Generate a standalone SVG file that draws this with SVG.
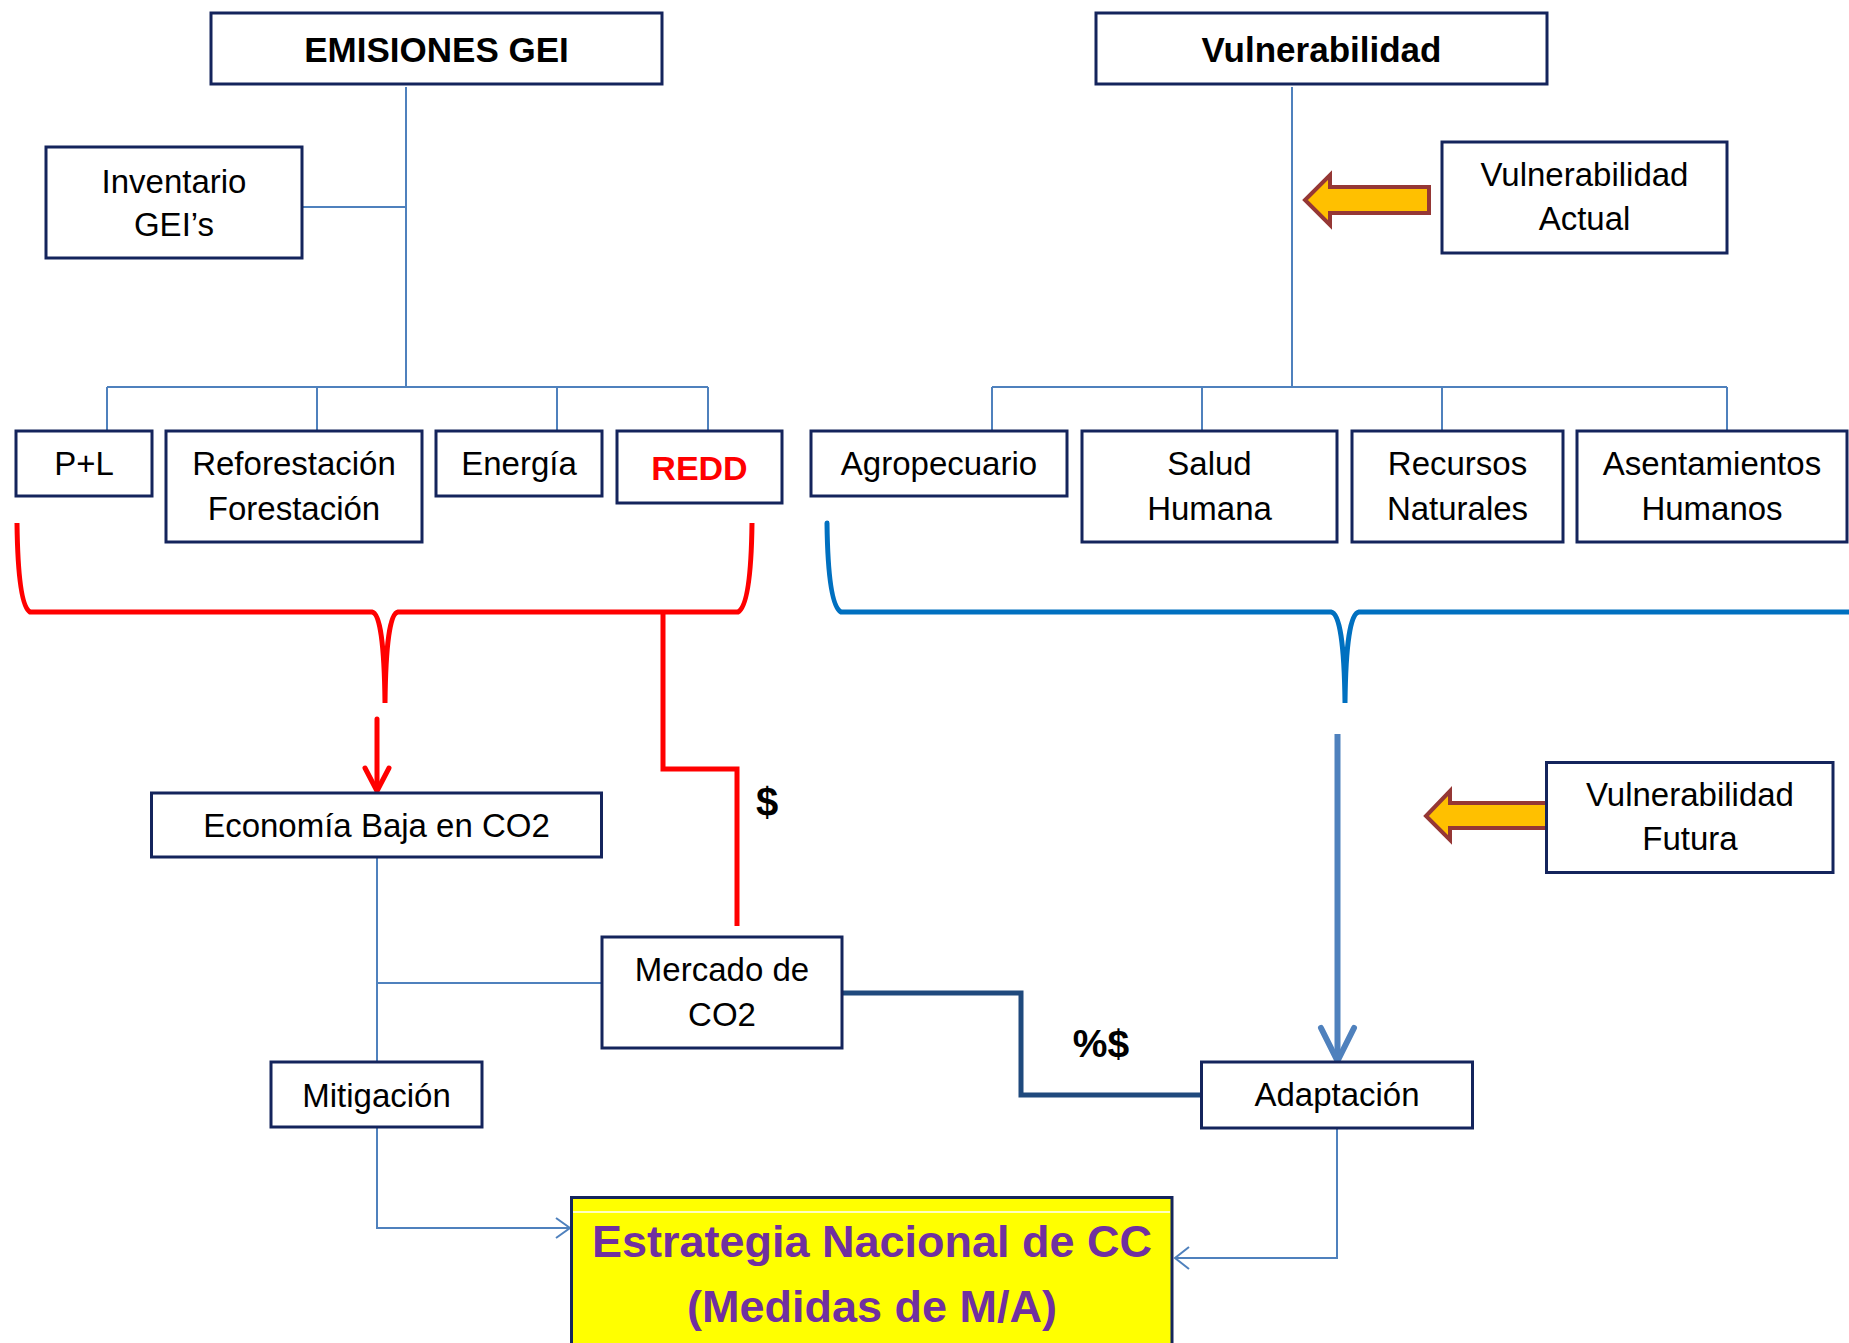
<svg xmlns="http://www.w3.org/2000/svg" width="1849" height="1343" viewBox="0 0 1849 1343">
<style>
.box{fill:#ffffff;stroke:#14245C;stroke-width:3}
.t{font-family:"Liberation Sans",Arial,sans-serif;font-size:33px;fill:#000;text-anchor:middle}
.b{font-family:"Liberation Sans",Arial,sans-serif;font-weight:bold;text-anchor:middle;fill:#000}
.c{fill:none;stroke:#4F81BD;stroke-width:2}
.red{fill:none;stroke:#FF0000;stroke-width:5;stroke-linejoin:miter}
.blu{fill:none;stroke:#0070C0;stroke-width:5}
.ya{fill:#FFC000;stroke:#953735;stroke-width:4}
</style>
<rect width="1849" height="1343" fill="#ffffff"/>
<g id="connectors">
<path class="c" d="M406,87V387M302,207H406M107,387H708M107,387V431M317,387V431M557,387V431M708,387V431"/>
<path class="c" d="M1292,87V387M992,387H1727M992,387V431M1202,387V431M1442,387V431M1727,387V431"/>
<path class="c" d="M377,857V1062M377,983H602"/>
<path class="c" d="M377,1127V1228H569M556,1218L570,1228L556,1238"/>
<path class="c" d="M1337,1128V1258H1175M1189,1247L1175,1258L1189,1269"/>
<path class="red" d="M17,523Q18,605 30,612L372,612Q384,614 385,703Q386,614 398,612L738,612Q751,605 752,523"/>
<path class="red" d="M663,612V769H737V926"/>
<path class="red" d="M377,719V788" stroke-linecap="round"/>
<path class="red" d="M365,768L377,791L389,768" stroke-width="4" stroke-linecap="round" stroke-linejoin="round"/>
<path class="blu" d="M827,523Q828,605 841,612L1331,612Q1344,614 1345,703Q1346,614 1359,612L1849,612" stroke-linecap="round"/>
<path d="M1337.5,734V1058" fill="none" stroke="#4F81BD" stroke-width="6"/>
<path d="M1321,1028L1337.5,1061L1354,1028" fill="none" stroke="#4F81BD" stroke-width="6" stroke-linecap="round" stroke-linejoin="round"/>
<path d="M842,993H1021V1095H1201" fill="none" stroke="#1F497D" stroke-width="5"/>
<polygon class="ya" points="1429,187 1330,187 1330,175 1305,200 1330,225 1330,213 1429,213"/>
<polygon class="ya" points="1549,803 1450,803 1450,791 1426,816 1450,840 1450,828 1549,828"/>
<text class="b" x="767" y="816" font-size="40">$</text>
<text class="b" x="1101" y="1057" font-size="39">%$</text>
</g>
<g id="emisiones"><rect class="box" x="211" y="13" width="451" height="71"/><text class="b" x="436.5" y="62" font-size="35">EMISIONES GEI</text></g>
<g id="inventario"><rect class="box" x="46" y="147" width="256" height="111"/><text class="t" x="174" y="193">Inventario</text><text class="t" x="174" y="236">GEI’s</text></g>
<g id="pl"><rect class="box" x="16" y="431" width="136" height="65"/><text class="t" x="84" y="475">P+L</text></g>
<g id="reforestacion"><rect class="box" x="166" y="431" width="256" height="111"/><text class="t" x="294" y="475">Reforestación</text><text class="t" x="294" y="520">Forestación</text></g>
<g id="energia"><rect class="box" x="436" y="431" width="166" height="65"/><text class="t" x="519" y="475">Energía</text></g>
<g id="redd"><rect class="box" x="617" y="431" width="165" height="72"/><text class="b" x="699.5" y="480" font-size="34" fill="#FF0000" style="fill:#FF0000">REDD</text></g>
<g id="vulnerabilidad"><rect class="box" x="1096" y="13" width="451" height="71"/><text class="b" x="1321.5" y="62" font-size="35">Vulnerabilidad</text></g>
<g id="vactual"><rect class="box" x="1442" y="142" width="285" height="111"/><text class="t" x="1584.5" y="186">Vulnerabilidad</text><text class="t" x="1584.5" y="230">Actual</text></g>
<g id="agropecuario"><rect class="box" x="811" y="431" width="256" height="65"/><text class="t" x="939" y="475">Agropecuario</text></g>
<g id="salud"><rect class="box" x="1082" y="431" width="255" height="111"/><text class="t" x="1209.5" y="475">Salud</text><text class="t" x="1209.5" y="520">Humana</text></g>
<g id="recursos"><rect class="box" x="1352" y="431" width="211" height="111"/><text class="t" x="1457.5" y="475">Recursos</text><text class="t" x="1457.5" y="520">Naturales</text></g>
<g id="asentamientos"><rect class="box" x="1577" y="431" width="270" height="111"/><text class="t" x="1712" y="475">Asentamientos</text><text class="t" x="1712" y="520">Humanos</text></g>
<g id="economia"><rect class="box" x="151.5" y="793" width="450" height="64"/><text class="t" x="376.5" y="837">Economía Baja en CO2</text></g>
<g id="mercado"><rect class="box" x="602" y="937" width="240" height="111"/><text class="t" x="722" y="981">Mercado de</text><text class="t" x="722" y="1026">CO2</text></g>
<g id="mitigacion"><rect class="box" x="271" y="1062" width="211" height="65"/><text class="t" x="376.5" y="1107">Mitigación</text></g>
<g id="adaptacion"><rect class="box" x="1201.5" y="1062" width="271" height="66"/><text class="t" x="1337" y="1106">Adaptación</text></g>
<g id="vfutura"><rect class="box" x="1546.5" y="762.5" width="286.5" height="110"/><text class="t" x="1690" y="806">Vulnerabilidad</text><text class="t" x="1690" y="850">Futura</text></g>
<g id="estrategia"><rect x="571.5" y="1197.5" width="600.5" height="170" fill="#FFFF00" stroke="#14245C" stroke-width="3"/><path d="M573,1212H1170" stroke="#ffffff" stroke-width="1.5"/><text class="b" x="872" y="1257" font-size="45" style="fill:#7030A0">Estrategia Nacional de CC</text><text class="b" x="872" y="1322" font-size="45" style="fill:#7030A0">(Medidas de M/A)</text></g>
</svg>
